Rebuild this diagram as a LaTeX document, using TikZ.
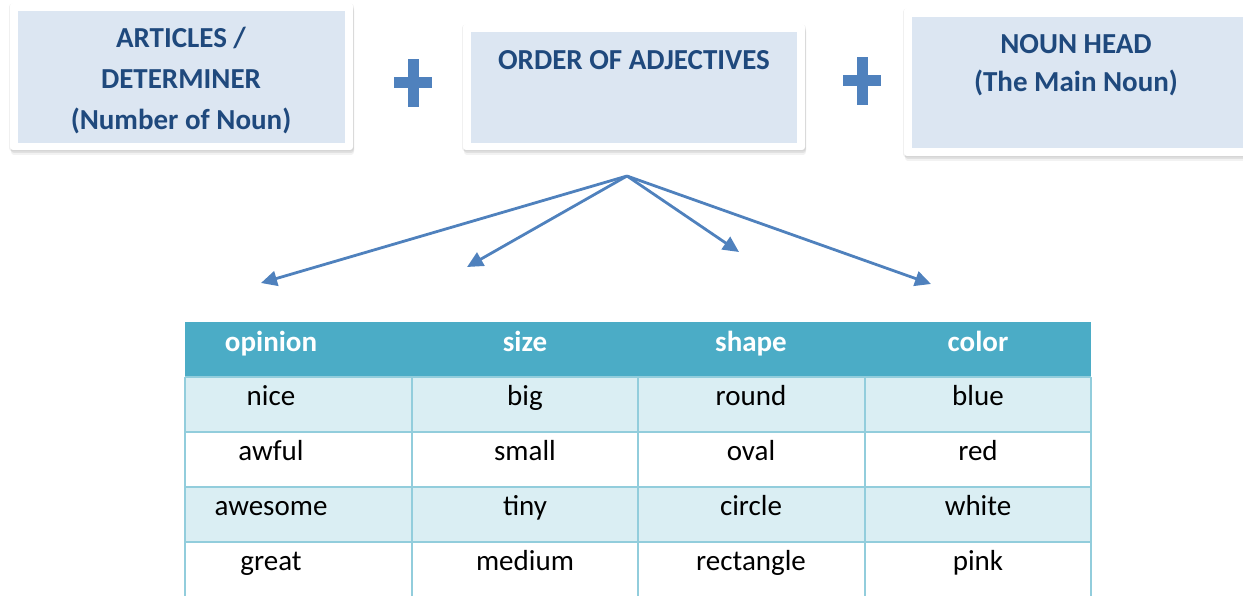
\documentclass[tikz,border=0pt]{standalone}
\usepackage{fontspec}
\setmainfont{Carlito}
\usetikzlibrary{arrows.meta,shadows}
\definecolor{boxfill}{HTML}{DCE6F2}
\definecolor{titleblue}{HTML}{1F497D}
\definecolor{accent}{HTML}{4F81BD}
\definecolor{hdrfill}{HTML}{4BACC6}
\definecolor{rowfill}{HTML}{DAEEF3}
\definecolor{gridline}{HTML}{92CDDC}
\tikzset{
  frame/.style={fill=white, rounded corners=3pt, inner sep=0pt, outer sep=0pt,
    drop shadow={shadow xshift=0pt, shadow yshift=-1pt, shadow scale=1.005, opacity=0.12},
    drop shadow={shadow xshift=1pt, shadow yshift=-3pt, opacity=0.15},
    drop shadow={shadow xshift=1pt, shadow yshift=-5pt, opacity=0.10}},
  inbox/.style={fill=boxfill, inner sep=0pt, outer sep=0pt},
  btxt/.style={font=\fontsize{29}{35}\selectfont\bfseries, text=titleblue, inner sep=0pt, anchor=base},
  hdr/.style={font=\fontsize{29}{35}\selectfont\bfseries, text=white, inner sep=0pt, anchor=base},
  cell/.style={font=\fontsize{29}{35}\selectfont, text=black, inner sep=0pt, anchor=base},
  arr/.style={draw=accent, line width=2.8pt, -{Triangle[length=16pt,width=15pt]}},
  plusbar/.style={fill=accent, draw=none, inner sep=0pt, outer sep=0pt}
}
\begin{document}
\begin{tikzpicture}[x=1pt,y=-1pt]
\useasboundingbox (0,0) rectangle (1243,596);

% boxes
\node[frame, minimum width=343pt, minimum height=147pt] (box1) at (181.5,76.5) {};
\node[inbox, minimum width=327pt, minimum height=132pt] (in1) at (181.5,77) {};
\node[btxt] (t1a) at (181,48) {ARTICLES /};
\node[btxt] (t1b) at (181,89) {DETERMINER};
\node[btxt] (t1c) at (181,130) {(Number of Noun)};

\node[frame, minimum width=342pt, minimum height=126pt] (box2) at (634,87) {};
\node[inbox, minimum width=326pt, minimum height=111pt] (in2) at (634,87.5) {};
\node[btxt] (t2) at (634,70) {ORDER OF ADJECTIVES};

\node[frame, minimum width=348pt, minimum height=148pt] (box3) at (1078,82) {};
\node[inbox, minimum width=332pt, minimum height=131pt] (in3) at (1078,82.5) {};
\node[btxt] (t3a) at (1076,54) {NOUN HEAD};
\node[btxt] (t3b) at (1076,92) {(The Main Noun)};

% plus signs
\node[plusbar, minimum width=38pt, minimum height=11pt] (p1h) at (413,83) {};
\node[plusbar, minimum width=11pt, minimum height=48pt] (p1v) at (413,83) {};
\node[plusbar, minimum width=38pt, minimum height=11pt] (p2h) at (862,81) {};
\node[plusbar, minimum width=11pt, minimum height=48pt] (p2v) at (862,81) {};

% arrows
\coordinate (apex) at (627,176);
\coordinate (e1) at (261,283);
\coordinate (e2) at (467,267);
\coordinate (e3) at (739,252);
\coordinate (e4) at (931,284);
\draw[arr] (apex) -- (e1);
\draw[arr] (apex) -- (e2);
\draw[arr] (apex) -- (e3);
\draw[arr] (apex) -- (e4);

% table
\fill[hdrfill] (185,322) rectangle (1091,377);
\fill[rowfill] (185,377) rectangle (1091,432);
\fill[rowfill] (185,487) rectangle (1091,542);
\begin{scope}[draw=gridline, line width=2pt]
  \draw (185,377) -- (1091,377);
  \draw (185,432) -- (1091,432);
  \draw (185,487) -- (1091,487);
  \draw (185,542) -- (1091,542);
  \draw (185,377) -- (185,600);
  \draw (412,377) -- (412,600);
  \draw (638,377) -- (638,600);
  \draw (865,377) -- (865,600);
  \draw (1091,377) -- (1091,600);
\end{scope}

\node[hdr] (h1) at (271,352) {opinion};
\node[hdr] (h2) at (525,352) {size};
\node[hdr] (h3) at (751,352) {shape};
\node[hdr] (h4) at (978,352) {color};

\node[cell] (c11) at (271,405) {nice};
\node[cell] (c12) at (525,405) {big};
\node[cell] (c13) at (751,405) {round};
\node[cell] (c14) at (978,405) {blue};

\node[cell] (c21) at (271,460) {awful};
\node[cell] (c22) at (525,460) {small};
\node[cell] (c23) at (751,460) {oval};
\node[cell] (c24) at (978,460) {red};

\node[cell] (c31) at (271,515) {awesome};
\node[cell] (c32) at (525,515) {tiny};
\node[cell] (c33) at (751,515) {circle};
\node[cell] (c34) at (978,515) {white};

\node[cell] (c41) at (271,570) {great};
\node[cell] (c42) at (525,570) {medium};
\node[cell] (c43) at (751,570) {rectangle};
\node[cell] (c44) at (978,570) {pink};
\end{tikzpicture}
\end{document}
